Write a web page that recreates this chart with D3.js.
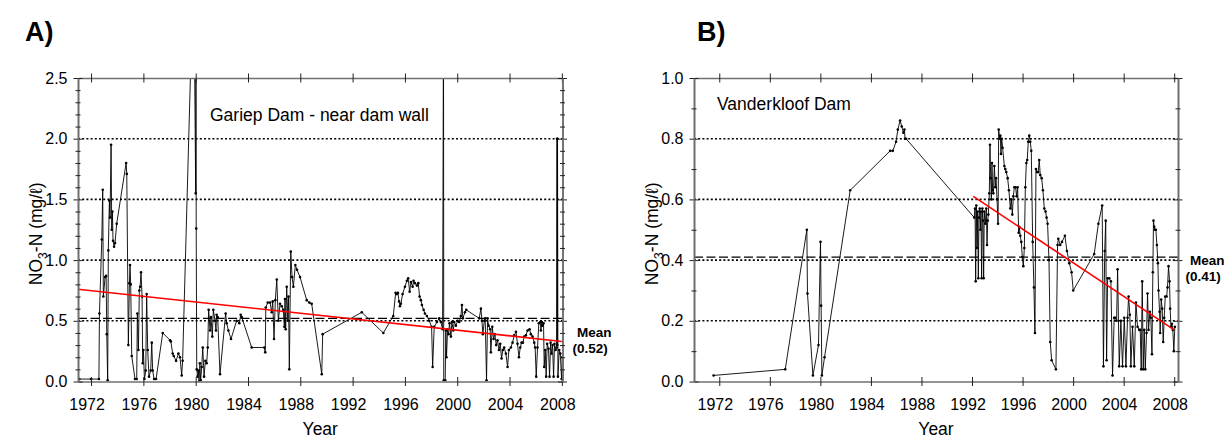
<!DOCTYPE html>
<html>
<head>
<meta charset="utf-8">
<script src="https://cdn.jsdelivr.net/npm/d3@7"></script>
<style>
body { margin: 0; background: #fff; }
svg text { font-family: "Liberation Sans", Arial, sans-serif; fill: #000; }
</style>
</head>
<body>
<div id="chart"></div>
<script>
var W = 1224, H = 441;

// ---- data ----
var yearTicks = [1972, 1976, 1980, 1984, 1988, 1992, 1996, 2000, 2004, 2008];

var gariepMajor = [0, 0.5, 1.0, 1.5, 2.0, 2.5];
var gariepMinor = [0.1, 0.2, 0.3, 0.4, 0.6, 0.7, 0.8, 0.9, 1.1, 1.2, 1.3, 1.4, 1.6, 1.7, 1.8, 1.9, 2.1, 2.2, 2.3, 2.4];
var gariepGrid = [0.5, 1.0, 1.5, 2.0];
var gariepMean = 0.52;
var gariepTrend = [[1971.0, 0.76], [2008.0, 0.33]];
var gariep = [
[1971.10,0.02],[1972.00,0.02],[1972.60,0.02],[1972.64,0.56],[1972.82,1.17],[1972.89,1.58],[1972.94,0.70],[1973.07,0.86],[1973.15,0.87],[1973.20,0.39],[1973.27,0.01],[1973.32,1.08],[1973.40,1.49],[1973.45,1.35],[1973.53,1.95],[1973.58,1.25],[1973.63,1.40],[1973.68,1.16],[1973.76,1.11],[1973.83,1.14],[1973.96,1.30],[1974.68,1.80],[1974.73,1.71],[1974.85,0.30],[1974.93,0.81],[1974.98,0.96],[1975.03,0.80],[1975.11,0.21],[1975.36,0.02],[1975.49,0.02],[1975.54,0.56],[1975.62,0.26],[1975.69,0.75],[1975.75,0.78],[1975.82,0.90],[1975.90,0.70],[1975.95,0.15],[1976.00,0.26],[1976.08,0.02],[1976.18,0.09],[1976.25,0.72],[1976.33,0.26],[1976.43,0.04],[1976.56,0.09],[1976.64,0.32],[1976.71,0.09],[1976.82,0.02],[1976.97,0.02],[1977.48,0.40],[1978.04,0.34],[1978.10,0.33],[1978.24,0.23],[1978.32,0.21],[1978.50,0.17],[1978.68,0.23],[1978.80,0.20],[1978.93,0.05],[1979.00,0.17],[1979.85,3.50],[1980.00,1.55],[1980.02,2.70],[1980.04,1.26],[1980.08,0.10],[1980.14,0.04],[1980.20,0.09],[1980.26,0.00],[1980.32,0.15],[1980.38,0.01],[1980.46,0.12],[1980.54,0.28],[1980.64,0.04],[1980.74,0.17],[1980.84,0.15],[1980.92,0.28],[1980.99,0.59],[1981.10,0.42],[1981.17,0.53],[1981.27,0.37],[1981.35,0.59],[1981.48,0.50],[1981.55,0.42],[1981.60,0.55],[1981.68,0.53],[1981.86,0.06],[1982.29,0.56],[1982.37,0.48],[1982.50,0.42],[1982.70,0.35],[1983.13,0.50],[1983.34,0.48],[1983.44,0.55],[1983.52,0.53],[1984.28,0.28],[1985.25,0.28],[1985.32,0.24],[1985.36,0.61],[1985.51,0.65],[1985.69,0.65],[1985.81,0.57],[1985.89,0.66],[1985.99,0.35],[1986.09,0.67],[1986.20,0.84],[1986.32,0.50],[1986.45,0.64],[1986.58,0.62],[1986.70,0.59],[1986.78,0.45],[1986.83,0.68],[1986.88,0.43],[1986.96,0.78],[1987.04,0.50],[1987.10,0.70],[1987.16,0.10],[1987.27,1.07],[1987.37,0.86],[1987.47,0.78],[1987.62,0.96],[1987.75,0.92],[1987.98,0.86],[1988.49,0.67],[1988.69,0.65],[1988.87,0.64],[1989.64,0.06],[1989.71,0.39],[1992.70,0.57],[1994.35,0.40],[1995.11,0.54],[1995.29,0.73],[1995.38,0.72],[1995.47,0.73],[1995.55,0.66],[1995.62,0.62],[1995.69,0.64],[1995.82,0.72],[1996.00,0.78],[1996.15,0.83],[1996.25,0.85],[1996.36,0.74],[1996.46,0.82],[1996.59,0.78],[1996.66,0.83],[1996.76,0.81],[1996.92,0.79],[1997.02,0.81],[1997.12,0.70],[1997.22,0.67],[1997.30,0.63],[1997.43,0.59],[1997.53,0.56],[1997.68,0.54],[1997.86,0.50],[1998.04,0.45],[1998.12,0.12],[1998.24,0.45],[1998.45,0.49],[1998.62,0.52],[1998.75,0.49],[1998.88,0.43],[1998.95,3.00],[1998.97,0.01],[1999.08,0.01],[1999.13,0.42],[1999.18,0.20],[1999.26,0.43],[1999.34,0.39],[1999.41,0.48],[1999.52,0.37],[1999.59,0.49],[1999.70,0.42],[1999.77,0.49],[1999.90,0.46],[2000.03,0.50],[2000.15,0.49],[2000.28,0.54],[2000.36,0.63],[2000.43,0.52],[2000.59,0.57],[2000.69,0.59],[2001.68,0.52],[2001.81,0.60],[2001.89,0.50],[2001.96,0.39],[2002.07,0.50],[2002.14,0.52],[2002.24,0.01],[2002.32,0.52],[2002.40,0.46],[2002.52,0.43],[2002.57,0.24],[2002.68,0.45],[2002.78,0.35],[2002.88,0.39],[2002.98,0.30],[2003.08,0.34],[2003.19,0.26],[2003.29,0.31],[2003.39,0.19],[2003.49,0.26],[2003.59,0.28],[2003.72,0.23],[2003.85,0.12],[2003.95,0.26],[2004.10,0.28],[2004.23,0.32],[2004.36,0.38],[2004.49,0.41],[2004.61,0.31],[2004.72,0.20],[2004.82,0.28],[2004.92,0.32],[2005.02,0.32],[2005.12,0.37],[2005.25,0.38],[2005.38,0.42],[2005.53,0.43],[2005.63,0.39],[2005.76,0.37],[2005.89,0.32],[2005.96,0.28],[2006.04,0.04],[2006.14,0.28],[2006.24,0.48],[2006.35,0.49],[2006.40,0.42],[2006.47,0.49],[2006.52,0.46],[2006.60,0.48],[2006.65,0.12],[2006.73,0.26],[2006.80,0.04],[2006.88,0.31],[2006.98,0.27],[2007.06,0.04],[2007.14,0.32],[2007.21,0.23],[2007.29,0.30],[2007.37,0.04],[2007.44,0.31],[2007.52,0.26],[2007.60,0.28],[2007.63,2.00],[2007.65,0.30],[2007.67,2.00],[2007.70,0.04],[2007.80,0.26],[2007.88,0.23],[2007.98,0.02],[2008.03,0.20]
];

var vanderMajor = [0, 0.2, 0.4, 0.6, 0.8, 1.0];
var vanderMinor = [0.1, 0.3, 0.5, 0.7, 0.9];
var vanderGrid = [0.2, 0.4, 0.6, 0.8];
var vanderMean = 0.41;
var vanderTrend = [[1992.1, 0.61], [2008.0, 0.17]];
var vanderkloof = [
[1971.55,0.02],[1977.22,0.04],[1978.93,0.50],[1978.98,0.29],[1979.41,0.02],[1979.85,0.12],[1980.01,0.46],[1980.06,0.25],[1980.12,0.02],[1980.33,0.08],[1982.36,0.63],[1985.52,0.76],[1985.73,0.76],[1985.99,0.79],[1986.13,0.83],[1986.31,0.86],[1986.44,0.84],[1986.57,0.82],[1986.65,0.83],[1986.70,0.80],[1986.78,0.80],
[1992.18,0.54],[1992.24,0.57],[1992.29,0.33],[1992.34,0.58],[1992.40,0.44],[1992.45,0.56],[1992.50,0.34],[1992.55,0.54],[1992.61,0.57],[1992.66,0.50],[1992.71,0.56],[1992.76,0.34],[1992.82,0.57],[1992.87,0.53],[1992.92,0.34],[1992.97,0.56],[1993.05,0.52],[1993.13,0.57],[1993.19,0.45],[1993.24,0.53],[1993.29,0.55],[1993.37,0.62],[1993.42,0.78],[1993.48,0.67],[1993.53,0.60],[1993.58,0.72],[1993.63,0.63],[1993.69,0.62],[1993.77,0.71],[1993.84,0.64],[1993.90,0.67],[1993.98,0.60],[1994.06,0.52],[1994.11,0.83],[1994.19,0.80],[1994.24,0.81],[1994.29,0.75],[1994.35,0.80],[1994.42,0.77],[1994.56,0.71],[1994.63,0.70],[1994.71,0.69],[1994.82,0.67],[1994.92,0.63],[1995.03,0.57],[1995.11,0.60],[1995.19,0.55],[1995.27,0.61],[1995.35,0.64],[1995.45,0.64],[1995.53,0.61],[1995.61,0.64],[1995.69,0.49],[1995.74,0.51],[1995.82,0.48],[1995.90,0.46],[1995.98,0.41],[1996.06,0.38],[1996.14,0.44],[1996.22,0.64],[1996.30,0.72],[1996.37,0.73],[1996.45,0.79],[1996.53,0.81],[1996.61,0.79],[1996.69,0.76],[1996.80,0.46],[1996.90,0.31],[1996.98,0.16],[1997.06,0.70],[1997.14,0.69],[1997.24,0.69],[1997.32,0.73],[1997.40,0.68],[1997.51,0.67],[1997.61,0.63],[1997.72,0.57],[1997.82,0.56],[1997.90,0.54],[1997.98,0.52],[1998.09,0.40],[1998.19,0.13],[1998.30,0.07],[1998.64,0.04],[1998.77,0.45],[1998.83,0.47],[1998.98,0.45],[1999.12,0.46],[1999.35,0.48],[1999.51,0.43],[1999.70,0.39],[1999.88,0.36],[2000.01,0.30],[2001.67,0.42],[2002.00,0.52],[2002.30,0.58],[2002.40,0.05],[2002.50,0.43],[2002.58,0.53],[2002.65,0.07],[2002.73,0.34],[2002.86,0.34],[2002.99,0.33],[2003.12,0.02],[2003.25,0.21],[2003.33,0.21],[2003.44,0.20],[2003.52,0.37],[2003.65,0.05],[2003.78,0.20],[2003.91,0.05],[2004.05,0.21],[2004.18,0.05],[2004.31,0.21],[2004.39,0.28],[2004.49,0.22],[2004.57,0.05],[2004.70,0.18],[2004.84,0.05],[2004.97,0.26],[2005.10,0.18],[2005.23,0.17],[2005.31,0.17],[2005.39,0.04],[2005.47,0.33],[2005.55,0.04],[2005.63,0.17],[2005.71,0.04],[2005.81,0.16],[2005.89,0.29],[2005.97,0.17],[2006.07,0.23],[2006.15,0.21],[2006.24,0.09],[2006.31,0.36],[2006.36,0.53],[2006.42,0.51],[2006.47,0.50],[2006.55,0.50],[2006.63,0.45],[2006.71,0.39],[2006.76,0.30],[2006.84,0.23],[2006.89,0.16],[2006.97,0.27],[2007.05,0.24],[2007.13,0.13],[2007.21,0.21],[2007.29,0.28],[2007.40,0.28],[2007.47,0.31],[2007.55,0.38],[2007.63,0.33],[2007.68,0.24],[2007.74,0.18],[2007.82,0.19],[2007.89,0.17],[2007.97,0.10],[2008.05,0.18]
];

var axisColor = "#707070";

var svg = d3.select("#chart").append("svg")
  .attr("width", W)
  .attr("height", H);

function drawPanel(p) {
  var x = d3.scaleLinear().domain(p.xDomain).range([p.left, p.right]);
  var y = d3.scaleLinear().domain(p.yDomain).range([p.bottom, p.top]);
  var g = svg.append("g");

  svg.append("clipPath").attr("id", "clip-" + p.id)
    .append("rect")
    .attr("x", p.left).attr("y", p.top)
    .attr("width", p.right - p.left)
    .attr("height", p.bottom - p.top);

  // dotted grid
  g.selectAll(".grid").data(p.grid).enter().append("line")
    .attr("x1", p.left).attr("x2", p.right)
    .attr("y1", function(d) { return y(d); })
    .attr("y2", function(d) { return y(d); })
    .attr("stroke", "#000")
    .attr("stroke-width", 1.6)
    .attr("stroke-dasharray", "2,2.2");

  // dashed mean line
  g.append("line")
    .attr("x1", p.left).attr("x2", p.right)
    .attr("y1", y(p.mean)).attr("y2", y(p.mean))
    .attr("stroke", "#000")
    .attr("stroke-width", 1.3)
    .attr("stroke-dasharray", "9,3.5");

  var line = d3.line()
    .x(function(d) { return x(d[0]); })
    .y(function(d) { return y(d[1]); });

  var dg = g.append("g").attr("clip-path", "url(#clip-" + p.id + ")");
  dg.append("path").datum(p.data)
    .attr("d", line)
    .attr("fill", "none")
    .attr("stroke", "#000")
    .attr("stroke-width", 0.9);
  dg.selectAll("circle").data(p.data).enter().append("circle")
    .attr("cx", function(d) { return x(d[0]); })
    .attr("cy", function(d) { return y(d[1]); })
    .attr("r", 1.3)
    .attr("fill", "#000");
  dg.append("path").datum(p.trend)
    .attr("d", line)
    .attr("fill", "none")
    .attr("stroke", "#ff0000")
    .attr("stroke-width", 1.6);

  // axes, ticks crossing the frame
  function style(ax) {
    ax.select(".domain").attr("stroke", axisColor).attr("stroke-width", 1.6);
    ax.selectAll(".tick line").attr("stroke", "#222").attr("stroke-width", 1);
    return ax;
  }
  function vticks(ax, len) {
    ax.selectAll(".tick line").attr("y1", -len).attr("y2", len);
  }
  function hticks(ax, len) {
    ax.selectAll(".tick line").attr("x1", -len).attr("x2", len);
  }

  var bottom = g.append("g")
    .attr("transform", "translate(0," + p.bottom + ")")
    .call(d3.axisBottom(x).tickValues(yearTicks).tickFormat(d3.format("d")).tickSizeOuter(0));
  style(bottom); vticks(bottom, 4.5);
  bottom.attr("font-size", 16).attr("font-family", "Liberation Sans, Arial, sans-serif");
  bottom.selectAll(".tick text").attr("y", 28).attr("dy", 0).attr("x", -4.5).attr("fill", "#000");

  var top = g.append("g")
    .attr("transform", "translate(0," + p.top + ")")
    .call(d3.axisTop(x).tickValues(yearTicks).tickFormat("").tickSizeOuter(0));
  style(top); vticks(top, 4.5);

  var left = g.append("g")
    .attr("transform", "translate(" + p.left + ",0)")
    .call(d3.axisLeft(y).tickValues(p.major).tickFormat(d3.format(".1f")).tickSizeOuter(0));
  style(left); hticks(left, 4.5);
  left.attr("font-size", 16).attr("font-family", "Liberation Sans, Arial, sans-serif");
  left.selectAll(".tick text").attr("x", -10.5).attr("fill", "#000");
  var leftMinor = g.append("g")
    .attr("transform", "translate(" + p.left + ",0)")
    .call(d3.axisLeft(y).tickValues(p.minor).tickFormat("").tickSizeOuter(0));
  style(leftMinor); hticks(leftMinor, 2.5);

  var right = g.append("g")
    .attr("transform", "translate(" + p.right + ",0)")
    .call(d3.axisRight(y).tickValues(p.major).tickFormat("").tickSizeOuter(0));
  style(right); hticks(right, 4.5);
  var rightMinor = g.append("g")
    .attr("transform", "translate(" + p.right + ",0)")
    .call(d3.axisRight(y).tickValues(p.minor).tickFormat("").tickSizeOuter(0));
  style(rightMinor); hticks(rightMinor, 2.5);

  // texts
  g.append("text")
    .attr("x", p.tagX).attr("y", 41)
    .attr("font-size", 27).attr("font-weight", "bold")
    .text(p.tag);
  g.append("text")
    .attr("x", p.noteX).attr("y", p.noteY)
    .attr("font-size", 17.5)
    .text(p.note);
  g.append("text")
    .attr("x", (p.left + p.right) / 2).attr("y", 435)
    .attr("text-anchor", "middle")
    .attr("font-size", 17.5)
    .text("Year");

  var yl = g.append("text")
    .attr("transform", "translate(" + (p.left - 36) + "," + ((p.top + p.bottom) / 2 + 4) + ")rotate(-90)")
    .attr("text-anchor", "middle")
    .attr("font-size", 17.5);
  yl.append("tspan").text("NO");
  yl.append("tspan").attr("font-size", 12).attr("dy", 5).text("3");
  yl.append("tspan").attr("dy", -5).text("-N (mg/\u2113)");

  g.append("text")
    .attr("x", p.right + p.meanDx).attr("y", p.meanY)
    .attr("font-size", 13.5).attr("font-weight", "bold")
    .text("Mean");
  g.append("text")
    .attr("x", p.right + p.meanDx - 4.5).attr("y", p.meanY + 16)
    .attr("font-size", 13.5).attr("font-weight", "bold")
    .text("(" + p.mean.toFixed(2) + ")");
}

drawPanel({
  id: "a", tag: "A)", tagX: 25,
  left: 78, right: 562.5, top: 78, bottom: 381.5,
  xDomain: [1971.0, 2008.05], yDomain: [0, 2.5],
  major: gariepMajor, minor: gariepMinor, grid: gariepGrid,
  mean: gariepMean, trend: gariepTrend, data: gariep,
  note: "Gariep Dam - near dam wall", noteX: 210, noteY: 121,
  meanY: 337, meanDx: 14.5
});

drawPanel({
  id: "b", tag: "B)", tagX: 697,
  left: 694, right: 1178, top: 78, bottom: 381.5,
  xDomain: [1970.0, 2008.3], yDomain: [0, 1.0],
  major: vanderMajor, minor: vanderMinor, grid: vanderGrid,
  mean: vanderMean, trend: vanderTrend, data: vanderkloof,
  note: "Vanderkloof Dam", noteX: 717, noteY: 110,
  meanY: 265, meanDx: 12
});
</script>
</body>
</html>
